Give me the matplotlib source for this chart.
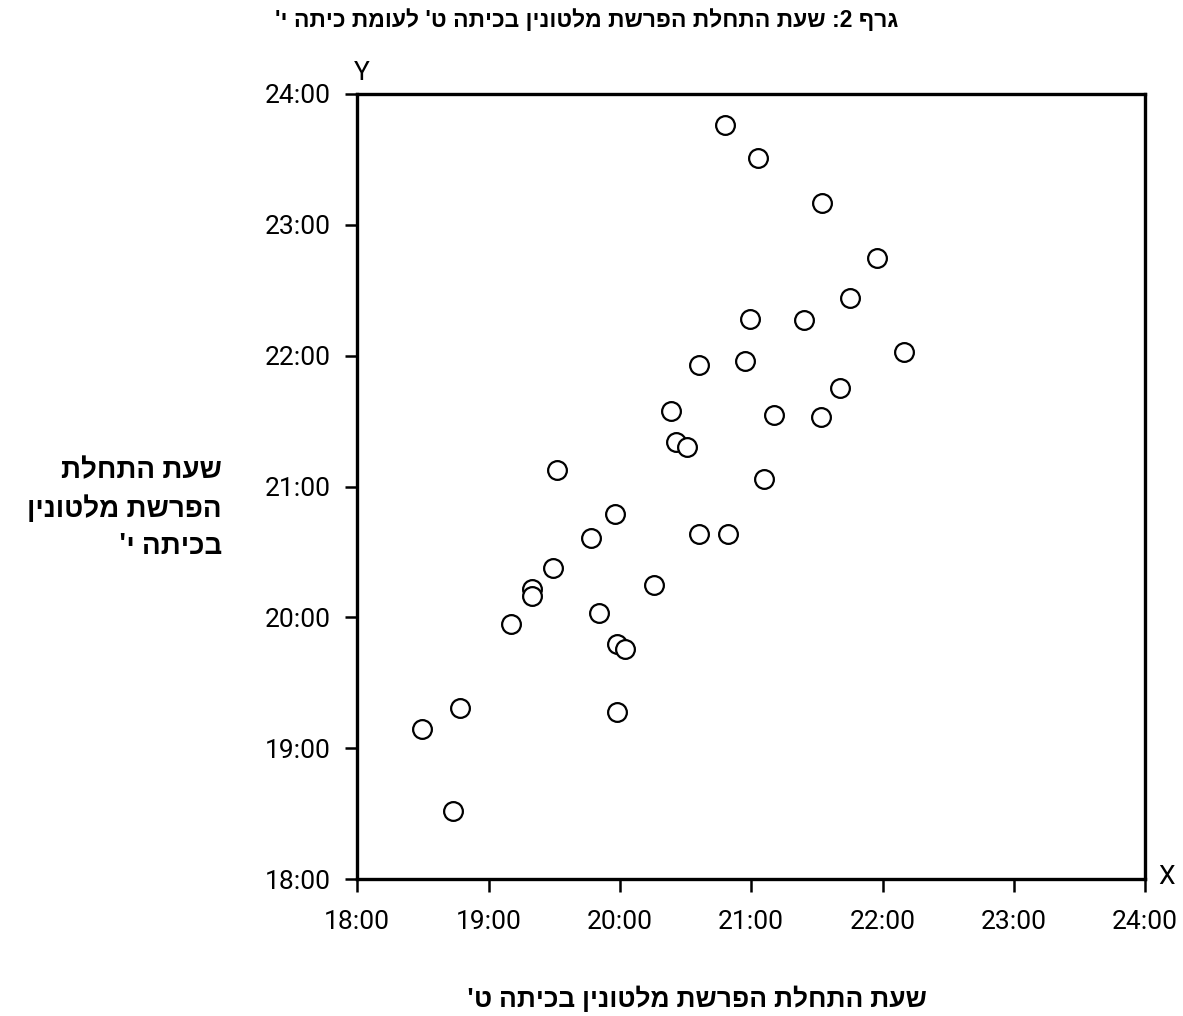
import matplotlib
matplotlib.use("Agg")
import matplotlib.pyplot as plt

# Melatonin onset time (decimal hours): grade 9 (x) vs grade 10 (y)
grade9 = [20.80, 21.05, 21.54, 21.96, 21.75, 20.99, 21.40, 22.16, 20.60, 20.95,
          21.68, 20.39, 21.17, 21.53, 20.43, 20.51, 19.52, 21.10, 19.96, 19.78,
          20.60, 20.82, 19.49, 20.26, 19.33, 19.33, 19.84, 19.17, 19.98, 20.04,
          18.78, 18.49, 19.98, 18.73]
grade10 = [23.76, 23.51, 23.17, 22.75, 22.44, 22.28, 22.27, 22.03, 21.93, 21.96,
           21.75, 21.58, 21.55, 21.53, 21.34, 21.30, 21.13, 21.06, 20.79, 20.61,
           20.64, 20.64, 20.38, 20.25, 20.22, 20.16, 20.03, 19.95, 19.80, 19.76,
           19.31, 19.15, 19.28, 18.52]
tick_hours = [18, 19, 20, 21, 22, 23, 24]
tick_labels = ["18:00", "19:00", "20:00", "21:00", "22:00", "23:00", "24:00"]

title = "גרף 2: שעת התחלת הפרשת מלטונין בכיתה ט' לעומת כיתה י'"
xlabel = "שעת התחלת הפרשת מלטונין בכיתה ט'"
ylabel_lines = ["שעת התחלת", "הפרשת מלטונין", "בכיתה י'"]


def rtl(s):
    # matplotlib lays glyphs left-to-right; reverse for right-to-left display
    return s[::-1]


heb = ["Open Sans", "Liberation Sans", "DejaVu Sans"]
num = ["Roboto", "DejaVu Sans"]

fig = plt.figure(figsize=(11.83, 10.16), dpi=100)
ax = fig.add_axes([0.302, 0.1348, 0.666, 0.7727])

ax.plot(grade9, grade10, linestyle="none", marker="o", markersize=13.5,
        markerfacecolor="white", markeredgecolor="black", markeredgewidth=1.6,
        zorder=3, clip_on=False)

ax.set_xlim(18, 24)
ax.set_ylim(18, 24)
ax.set_xticks(tick_hours)
ax.set_xticklabels(tick_labels, fontfamily=num, fontsize=19)
ax.set_yticks(tick_hours)
ax.set_yticklabels(tick_labels, fontfamily=num, fontsize=19)
ax.tick_params(axis="both", direction="out", length=9, width=1.8, color="black")
ax.tick_params(axis="x", pad=13)
ax.tick_params(axis="y", pad=10)
for s in ax.spines.values():
    s.set_linewidth(2.4)
    s.set_color("black")

fig.text(0.496, 0.980, rtl(title), ha="center", va="center", fontsize=16.5,
         fontweight="bold", family=["Liberation Sans", "DejaVu Sans"])
fig.text(0.306, 0.928, "Y", ha="center", va="center", fontsize=19, family=num)
fig.text(0.986, 0.137, "X", ha="center", va="center", fontsize=19, family=num)

fig.text(0.589, 0.016, rtl(xlabel), ha="center", va="center", fontsize=19,
         fontweight="bold", family=heb)
fig.text(0.1877, 0.499, "\n".join(rtl(l) for l in ylabel_lines), ha="right",
         va="center", fontsize=20, fontweight="bold", family=heb,
         multialignment="right", linespacing=1.4)

fig.savefig("out.png", dpi=100)
